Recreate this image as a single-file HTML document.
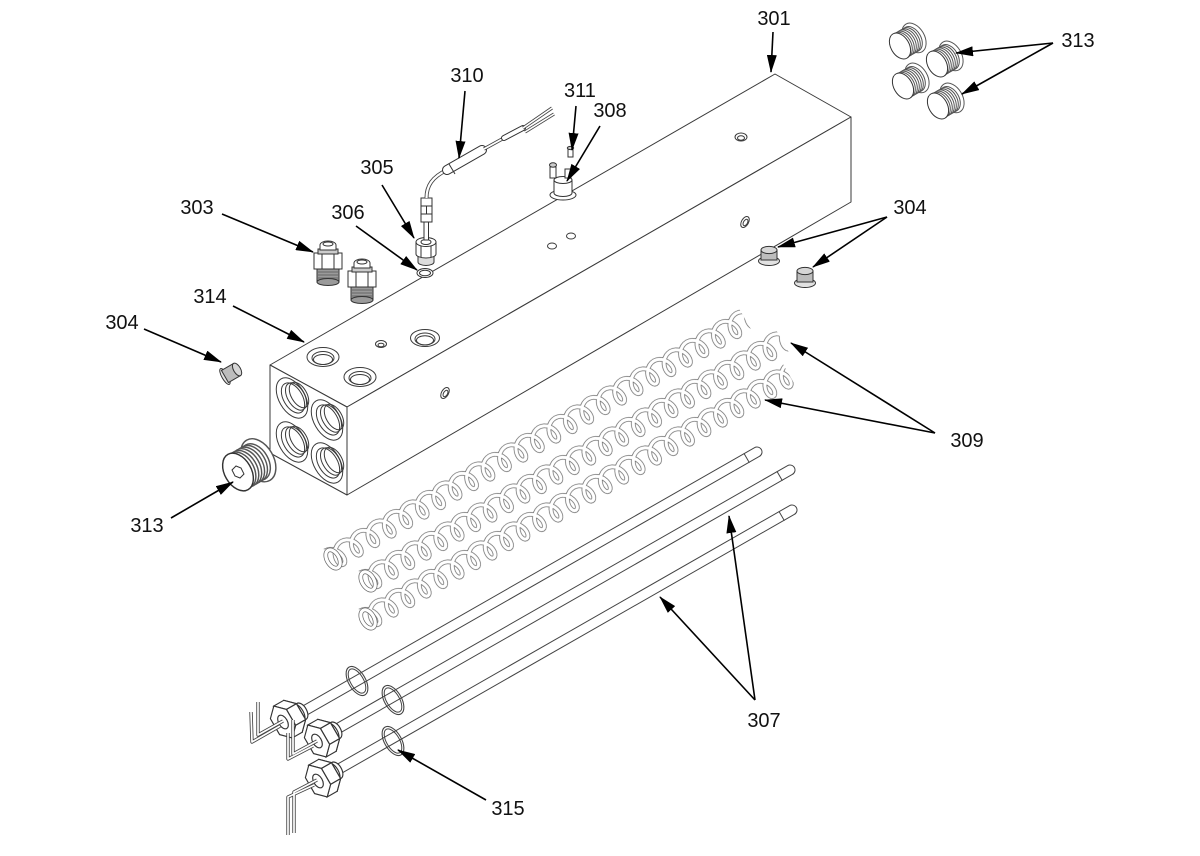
<!DOCTYPE html>
<html><head><meta charset="utf-8">
<style>
html,body{margin:0;padding:0;background:#fff;}
body{width:1200px;height:856px;overflow:hidden;}
svg{display:block;}
text{font-family:"Liberation Sans",Arial,sans-serif;font-size:20px;fill:#111;text-anchor:middle;}
</style></head>
<body>
<svg width="1200" height="856" viewBox="0 0 1200 856" xmlns="http://www.w3.org/2000/svg">
<defs>
  <marker id="ah" viewBox="0 0 18 10" refX="17" refY="5" markerWidth="18" markerHeight="10" markerUnits="userSpaceOnUse" orient="auto">
    <path d="M0,0 L18,5 L0,10 z" fill="#000"/>
  </marker>
  <path id="cp" d="M-5.58,6.91 L-2.86,5.86 L0,5.5 L2.86,5.86 L5.58,6.91 L8.03,8.58 L10.1,10.75 L11.69,13.28 L12.75,16 L13.27,18.72 L13.26,21.25 L12.78,23.43 L11.92,25.09 L10.78,26.14 L9.5,26.5 L8.22,26.14 L7.08,25.09 L6.22,23.43 L5.74,21.25 L5.73,18.72 L6.25,16 L7.32,13.28 L8.91,10.75 L10.97,8.58 L13.42,6.91 L16.14,5.86 L19,5.5 L21.86,5.86 L24.58,6.91"/>
  <pattern id="coil" patternUnits="userSpaceOnUse" x="0" y="-16" width="19" height="32">
    <use href="#cp" fill="none" stroke="#636363" stroke-width="4.6" stroke-linejoin="round"/>
    <use href="#cp" fill="none" stroke="#fff" stroke-width="3.2" stroke-linejoin="round"/>
  </pattern>
  <g id="pl" fill="#fff" stroke="#555" stroke-width="1">
    <ellipse cx="14" cy="-8.1" rx="16" ry="10.5" transform="rotate(60 14 -8.1)"/>
    <ellipse cx="12" cy="-6.9" rx="13.5" ry="9" transform="rotate(60 12 -6.9)"/>
    <ellipse cx="10" cy="-5.8" rx="13.5" ry="9" transform="rotate(60 10 -5.8)"/>
    <ellipse cx="8" cy="-4.6" rx="13.5" ry="9" transform="rotate(60 8 -4.6)"/>
    <ellipse cx="6" cy="-3.5" rx="13.5" ry="9" transform="rotate(60 6 -3.5)"/>
    <ellipse cx="4" cy="-2.3" rx="13.5" ry="9" transform="rotate(60 4 -2.3)"/>
    <ellipse cx="2" cy="-1.2" rx="13.5" ry="9" transform="rotate(60 2 -1.2)"/>
    <ellipse cx="0" cy="0" rx="14" ry="9.2" transform="rotate(60)" stroke="#333"/>
  </g>
  <g id="fit" stroke="#333" stroke-width="1">
    <rect x="-11" y="29" width="22" height="13" fill="#9a9a9a"/>
    <line x1="-11" y1="32" x2="11" y2="32" stroke="#666"/>
    <line x1="-11" y1="35" x2="11" y2="35" stroke="#666"/>
    <line x1="-11" y1="38" x2="11" y2="38" stroke="#666"/>
    <ellipse cx="0" cy="42" rx="11" ry="3.5" fill="#9a9a9a"/>
    <rect x="-14" y="13" width="28" height="16" fill="#fff"/>
    <line x1="-6" y1="13" x2="-6" y2="29"/>
    <line x1="6" y1="13" x2="6" y2="29"/>
    <rect x="-10" y="9" width="20" height="5" fill="#ccc"/>
    <path d="M-8,10 L-8,5 A8,4 0 0 1 8,5 L8,10 Z" fill="#fff"/>
    <ellipse cx="0" cy="4" rx="5" ry="2" fill="none"/>
  </g>
  <g id="nut" stroke="#333" stroke-width="1" fill="#fff">
    <ellipse cx="16" cy="-9.2" rx="8" ry="4.6" transform="rotate(60 16 -9.2)"/>
    <ellipse cx="12.5" cy="-7.2" rx="9.5" ry="5.4" transform="rotate(60 12.5 -7.2)"/>
    <polygon points="16.7,8.86 5.74,5.95 -2.26,-7.91 0.7,-18.86 11.66,-15.95 19.66,-2.09"/>
    <polygon points="2.96,-10.95 11.66,-15.95 19.66,-2.09 10.96,2.91"/>
    <polygon points="10.96,2.91 19.66,-2.09 16.7,8.86 8,13.86"/>
    <polygon points="-8,-13.86 0.7,-18.86 11.66,-15.95 2.96,-10.95"/>
    <polygon points="8,13.86 -2.96,10.95 -10.96,-2.91 -8,-13.86 2.96,-10.95 10.96,2.91"/>
    <ellipse cx="0" cy="0" rx="6.5" ry="3.8" transform="rotate(60)"/>
  </g>
</defs>

<rect width="1200" height="856" fill="#fff"/>

<!-- ===== Block 301/314 ===== -->
<g stroke="#3a3a3a" stroke-width="1" fill="#fff" stroke-linejoin="round">
  <polygon points="270,365 775,74 851,117 347,407"/>
  <polygon points="347,407 851,117 851,202 347,495"/>
  <polygon points="270,365 347,407 347,495 270,453"/>
</g>
<!-- front face holes -->
<g fill="#fff" stroke="#3a3a3a" stroke-width="1">
  <ellipse rx="22" ry="13" transform="translate(292,398) rotate(60)"/>
  <ellipse rx="22" ry="13" transform="translate(327,420) rotate(60)"/>
  <ellipse rx="22" ry="13" transform="translate(292,442) rotate(60)"/>
  <ellipse rx="22" ry="13" transform="translate(327,463) rotate(60)"/>
  <g fill="none">
    <ellipse rx="16.5" ry="9.5" transform="translate(293,398) rotate(60)"/>
    <ellipse rx="15" ry="8.5" transform="translate(296,396.5) rotate(60)"/>
    <ellipse rx="14" ry="7.8" transform="translate(299,395) rotate(60)"/>
    <ellipse rx="16.5" ry="9.5" transform="translate(328,420) rotate(60)"/>
    <ellipse rx="15" ry="8.5" transform="translate(331,418.5) rotate(60)"/>
    <ellipse rx="14" ry="7.8" transform="translate(334,417) rotate(60)"/>
    <ellipse rx="16.5" ry="9.5" transform="translate(293,442) rotate(60)"/>
    <ellipse rx="15" ry="8.5" transform="translate(296,440.5) rotate(60)"/>
    <ellipse rx="14" ry="7.8" transform="translate(299,439) rotate(60)"/>
    <ellipse rx="16.5" ry="9.5" transform="translate(328,463) rotate(60)"/>
    <ellipse rx="15" ry="8.5" transform="translate(331,461.5) rotate(60)"/>
    <ellipse rx="14" ry="7.8" transform="translate(334,460) rotate(60)"/>
  </g>
</g>
<!-- top face holes -->
<g fill="none" stroke="#3a3a3a" stroke-width="1">
  <ellipse cx="323" cy="357" rx="16" ry="9.5"/><ellipse cx="323" cy="358" rx="11" ry="6.5"/><ellipse cx="323" cy="359.5" rx="9.5" ry="5"/>
  <ellipse cx="360" cy="377" rx="16" ry="9.5"/><ellipse cx="360" cy="378" rx="11" ry="6.5"/><ellipse cx="360" cy="379.5" rx="9.5" ry="5"/>
  <ellipse cx="425" cy="338" rx="14.5" ry="8.5"/><ellipse cx="425" cy="339" rx="10" ry="6"/><ellipse cx="425" cy="340.3" rx="8.5" ry="4.6"/>
  <ellipse cx="381" cy="344" rx="5.5" ry="3.5"/><ellipse cx="381" cy="345" rx="3" ry="1.8"/>
  <ellipse cx="552" cy="246" rx="4.5" ry="3"/>
  <ellipse cx="571" cy="236" rx="4.5" ry="3"/>
  <ellipse cx="741" cy="137" rx="6" ry="4"/><ellipse cx="741" cy="138" rx="3.5" ry="2.2"/>
  <ellipse rx="6" ry="3.5" transform="translate(445,393) rotate(-60)"/><ellipse rx="3.5" ry="2" transform="translate(445.5,393.5) rotate(-60)"/>
  <ellipse rx="6" ry="3.5" transform="translate(745,222) rotate(-60)"/><ellipse rx="3.5" ry="2" transform="translate(745.5,222.5) rotate(-60)"/>
</g>

<!-- ===== 303 fittings ===== -->
<use href="#fit" transform="translate(328,240)"/>
<use href="#fit" transform="translate(362,258)"/>

<!-- ===== 306 / 305 / 310 sensor ===== -->
<g stroke="#333" stroke-width="1" fill="#fff">
  <ellipse cx="425" cy="273" rx="8" ry="4.5"/><ellipse cx="425" cy="273" rx="5.5" ry="2.8"/>
  <path d="M418,254 L418,262 A8,3.5 0 0 0 434,262 L434,254 Z" fill="#ddd"/>
  <path d="M416,242 L416,254 A10,4 0 0 0 436,254 L436,242 Z"/>
  <line x1="421" y1="245.5" x2="421" y2="257.5"/><line x1="431" y1="245.5" x2="431" y2="257.5"/>
  <ellipse cx="426" cy="242" rx="10" ry="4.5"/>
  <ellipse cx="426" cy="242" rx="5" ry="2.5"/>
  <rect x="424" y="222" width="4.5" height="18"/>
  <rect x="421" y="198" width="11" height="24"/>
  <line x1="421" y1="206" x2="432" y2="206"/><line x1="421" y1="214" x2="432" y2="214"/>
  <line x1="426.5" y1="206" x2="426.5" y2="214"/>
</g>
<path d="M426.5,198 C426.5,186 432,177 447,170" fill="none" stroke="#444" stroke-width="4"/>
<path d="M426.5,198 C426.5,186 432,177 447,170" fill="none" stroke="#fff" stroke-width="2.2"/>
<line x1="447" y1="170" x2="482" y2="150" stroke="#333" stroke-width="10" stroke-linecap="round"/>
<line x1="447" y1="170" x2="482" y2="150" stroke="#fff" stroke-width="8" stroke-linecap="round"/>
<line x1="449" y1="164" x2="455" y2="174" stroke="#333" stroke-width="1"/>
<line x1="484" y1="149" x2="504" y2="138" stroke="#444" stroke-width="3.5"/>
<line x1="484" y1="149" x2="504" y2="138" stroke="#fff" stroke-width="1.8"/>
<line x1="504" y1="138" x2="523" y2="128" stroke="#333" stroke-width="6" stroke-linecap="round"/>
<line x1="504" y1="138" x2="523" y2="128" stroke="#fff" stroke-width="4" stroke-linecap="round"/>
<g stroke="#444" stroke-width="3.2" fill="none"><path d="M523,128 L552,108"/><path d="M525,132 L554,114"/></g>
<g stroke="#fff" stroke-width="1.6" fill="none"><path d="M523,128 L552,108"/><path d="M525,132 L554,114"/></g>

<!-- ===== 308 switch / 311 screw ===== -->
<g stroke="#333" stroke-width="1" fill="#fff">
  <ellipse cx="563" cy="195" rx="13" ry="5"/>
  <path d="M554,180 L554,193 A9,3.5 0 0 0 572,193 L572,180 Z"/>
  <ellipse cx="563" cy="180" rx="9" ry="3.5"/>
  <rect x="550" y="167" width="6" height="11"/>
  <ellipse cx="553" cy="165" rx="3.5" ry="2.2" fill="#ccc"/>
  <rect x="565" y="169" width="6" height="9"/>
  <rect x="568" y="148" width="5" height="9"/>
  <ellipse cx="570.5" cy="148" rx="3.2" ry="1.6" fill="#ccc"/>
</g>

<!-- ===== 304 plugs (right) ===== -->
<g stroke="#333" stroke-width="1">
  <ellipse cx="769" cy="261" rx="10.5" ry="4.5" fill="#e2e2e2"/>
  <rect x="761" y="250" width="16" height="10" fill="#bdbdbd"/>
  <ellipse cx="769" cy="250" rx="8" ry="3.6" fill="#d6d6d6"/>
  <ellipse cx="805" cy="283" rx="10.5" ry="4.5" fill="#e2e2e2"/>
  <rect x="797" y="271" width="16" height="11" fill="#bdbdbd"/>
  <ellipse cx="805" cy="271" rx="8" ry="3.6" fill="#d6d6d6"/>
</g>
<!-- 304 plug (left) -->
<g stroke="#333" stroke-width="1" transform="translate(231,373) rotate(-30)">
  <ellipse cx="-7" cy="0" rx="3" ry="9" fill="#e2e2e2"/>
  <rect x="-7" y="-7" width="14" height="14" fill="#bdbdbd"/>
  <ellipse cx="7" cy="0" rx="3.5" ry="7" fill="#d6d6d6"/>
</g>

<!-- ===== 313 plugs ===== -->
<use href="#pl" transform="translate(900,46)"/>
<use href="#pl" transform="translate(937,64)"/>
<use href="#pl" transform="translate(903,86)"/>
<use href="#pl" transform="translate(938,106)"/>
<use href="#pl" transform="translate(238,472) scale(1.45)"/>
<polygon points="244,474 240,478 235,476 232,470 236,466 241,468" fill="#fff" stroke="#333" stroke-width="1"/>

<!-- ===== 309 springs ===== -->
<g transform="translate(330,560) rotate(-30)"><rect x="0" y="-16" width="480" height="32" fill="url(#coil)"/></g>
<g transform="translate(365,582) rotate(-30)"><rect x="0" y="-16" width="482" height="32" fill="url(#coil)"/></g>
<g transform="translate(365,620) rotate(-30)"><rect x="0" y="-16" width="490" height="32" fill="url(#coil)"/></g>
<g fill="none">
  <g stroke="#636363" stroke-width="4.6">
    <ellipse rx="10" ry="6" transform="translate(333,559) rotate(60)"/>
    <ellipse rx="10" ry="6" transform="translate(368,581) rotate(60)"/>
    <ellipse rx="10" ry="6" transform="translate(368,619) rotate(60)"/>
  </g>
  <g stroke="#fff" stroke-width="3.2">
    <ellipse rx="10" ry="6" transform="translate(333,559) rotate(60)"/>
    <ellipse rx="10" ry="6" transform="translate(368,581) rotate(60)"/>
    <ellipse rx="10" ry="6" transform="translate(368,619) rotate(60)"/>
  </g>
</g>

<!-- ===== 307 rods ===== -->
<g>
  <line x1="757" y1="452" x2="290" y2="719" stroke="#444" stroke-width="11" stroke-linecap="round"/>
  <line x1="757" y1="452" x2="290" y2="719" stroke="#fff" stroke-width="9" stroke-linecap="round"/>
  <line x1="743.9" y1="453.2" x2="749.4" y2="462.8" stroke="#444" stroke-width="1"/>
  <ellipse rx="16" ry="8.5" transform="translate(357,681) rotate(60)" fill="none" stroke="#444" stroke-width="1.1"/>
  <ellipse rx="13.5" ry="6.5" transform="translate(357,681) rotate(60)" fill="none" stroke="#444" stroke-width="1"/>
  <use href="#nut" transform="translate(283,722) scale(1.15)"/>
  <g fill="none" stroke="#444" stroke-width="3.4" stroke-linejoin="round"><path d="M283,721 L258,735 L258,702"/><path d="M280,726 L252,742 L251,712"/></g>
  <g fill="none" stroke="#fff" stroke-width="1.7" stroke-linejoin="round"><path d="M283,721 L258,735 L258,702"/><path d="M280,726 L252,742 L251,712"/></g>
</g>
<g>
  <line x1="790" y1="470" x2="323" y2="737" stroke="#444" stroke-width="11" stroke-linecap="round"/>
  <line x1="790" y1="470" x2="323" y2="737" stroke="#fff" stroke-width="9" stroke-linecap="round"/>
  <line x1="776.9" y1="471.2" x2="782.4" y2="480.8" stroke="#444" stroke-width="1"/>
  <ellipse rx="16" ry="8.5" transform="translate(393,700) rotate(60)" fill="none" stroke="#444" stroke-width="1.1"/>
  <ellipse rx="13.5" ry="6.5" transform="translate(393,700) rotate(60)" fill="none" stroke="#444" stroke-width="1"/>
  <use href="#nut" transform="translate(317,741) scale(1.15)"/>
  <g fill="none" stroke="#444" stroke-width="3.4" stroke-linejoin="round"><path d="M317,741 L293,754 L293,720"/><path d="M313,746 L288,759 L288,733"/></g>
  <g fill="none" stroke="#fff" stroke-width="1.7" stroke-linejoin="round"><path d="M317,741 L293,754 L293,720"/><path d="M313,746 L288,759 L288,733"/></g>
</g>
<g>
  <line x1="792" y1="510" x2="325" y2="777" stroke="#444" stroke-width="11" stroke-linecap="round"/>
  <line x1="792" y1="510" x2="325" y2="777" stroke="#fff" stroke-width="9" stroke-linecap="round"/>
  <line x1="778.9" y1="511.2" x2="784.4" y2="520.8" stroke="#444" stroke-width="1"/>
  <ellipse rx="16" ry="8.5" transform="translate(393,741) rotate(60)" fill="none" stroke="#444" stroke-width="1.1"/>
  <ellipse rx="13.5" ry="6.5" transform="translate(393,741) rotate(60)" fill="none" stroke="#444" stroke-width="1"/>
  <use href="#nut" transform="translate(318,781) scale(1.15)"/>
  <g fill="none" stroke="#444" stroke-width="3.4" stroke-linejoin="round"><path d="M317,780 L294,792 L294,833"/><path d="M314,785 L288,797 L288,835"/></g>
  <g fill="none" stroke="#fff" stroke-width="1.7" stroke-linejoin="round"><path d="M317,780 L294,792 L294,833"/><path d="M314,785 L288,797 L288,835"/></g>
</g>

<!-- ===== Leader arrows ===== -->
<g stroke="#000" stroke-width="1.6" fill="none" marker-end="url(#ah)">
  <line x1="773" y1="32" x2="771" y2="72"/>
  <line x1="1053" y1="43" x2="956" y2="53"/>
  <line x1="1053" y1="43" x2="962" y2="94"/>
  <line x1="465" y1="91" x2="459" y2="158"/>
  <line x1="576" y1="106" x2="572" y2="150"/>
  <line x1="600" y1="126" x2="567" y2="181"/>
  <line x1="382" y1="185" x2="414" y2="238"/>
  <line x1="222" y1="214" x2="313" y2="252"/>
  <line x1="356" y1="226" x2="417" y2="270"/>
  <line x1="887" y1="217" x2="778" y2="247"/>
  <line x1="887" y1="217" x2="813" y2="267"/>
  <line x1="233" y1="306" x2="304" y2="342"/>
  <line x1="144" y1="329" x2="221" y2="362"/>
  <line x1="935" y1="433" x2="791" y2="343"/>
  <line x1="935" y1="433" x2="765" y2="400"/>
  <line x1="171" y1="518" x2="233" y2="482"/>
  <line x1="755" y1="700" x2="660" y2="597"/>
  <line x1="755" y1="700" x2="729" y2="516"/>
  <line x1="486" y1="800" x2="398" y2="750"/>
</g>

<!-- ===== Labels ===== -->
<text x="774" y="25">301</text>
<text x="1078" y="47">313</text>
<text x="467" y="82">310</text>
<text x="580" y="97">311</text>
<text x="610" y="117">308</text>
<text x="377" y="174">305</text>
<text x="197" y="214">303</text>
<text x="348" y="219">306</text>
<text x="910" y="214">304</text>
<text x="210" y="303">314</text>
<text x="122" y="329">304</text>
<text x="967" y="447">309</text>
<text x="147" y="532">313</text>
<text x="764" y="727">307</text>
<text x="508" y="815">315</text>
</svg>
</body></html>
